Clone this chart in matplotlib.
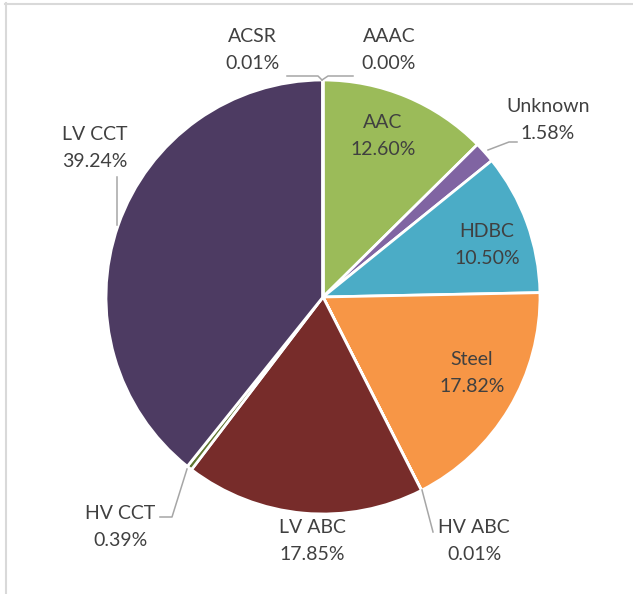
import matplotlib
matplotlib.use("Agg")
import matplotlib.pyplot as plt
from matplotlib.lines import Line2D

categories = ["AAAC", "AAC", "Unknown", "HDBC", "Steel", "HV ABC", "LV ABC", "HV CCT", "LV CCT", "ACSR"]
values = [0.00, 12.60, 1.58, 10.50, 17.82, 0.01, 17.85, 0.39, 39.24, 0.01]
colors = ["#4F81BD", "#9BBB59", "#8064A2", "#4BACC6", "#F79646", "#2C4D75", "#772C2A", "#5F7530", "#4D3B62", "#C0504D"]

W, H = 633, 594
fig = plt.figure(figsize=(W / 100, H / 100), dpi=100)
ax = fig.add_axes([0, 0, 1, 1])

cx, cy, r = 323, 297, 217
ax.pie(values, colors=colors, startangle=90, counterclock=False,
       center=(cx, H - cy), radius=r,
       wedgeprops=dict(edgecolor="white", linewidth=2.0))
ax.set_xlim(0, W)
ax.set_ylim(0, H)
ax.set_aspect("equal")
ax.axis("off")

# label positions in pixel coords (x, y from top)
label_pos = {
    "AAAC": (389, 50), "ACSR": (252, 50), "AAC": (383, 136), "Unknown": (548, 120),
    "HDBC": (487, 245), "Steel": (472, 373), "HV ABC": (474, 541), "LV ABC": (312, 541),
    "HV CCT": (120, 527), "LV CCT": (95, 148),
}
for cat, val in zip(categories, values):
    x, y = label_pos[cat]
    ax.text(x, H - y, f"{cat}\n{val:.2f}%", ha="center", va="center",
            fontsize=14, color="#404040", family=["Lato", "DejaVu Sans"],
            linespacing=1.75)

# leader lines (pixel coords)
leaders = [
    [(287, 76), (318, 76), (322, 80)],
    [(322, 80), (328, 76), (353, 76)],
    [(488, 150), (509, 142), (517, 142)],
    [(422, 490), (433, 532)],
    [(187, 469), (172, 517), (160, 517)],
    [(117, 177), (117, 225)],
]
for pts in leaders:
    xs = [p[0] for p in pts]
    ys = [H - p[1] for p in pts]
    ax.add_line(Line2D(xs, ys, color="#A6A6A6", linewidth=1.1))

# chart frame (top and left edges visible)
fig.add_artist(Line2D([5 / W, 1], [1 - 3.5 / H, 1 - 3.5 / H], transform=fig.transFigure,
                      color="#D9D9D9", linewidth=1.5))
fig.add_artist(Line2D([5.5 / W, 5.5 / W], [0, 1 - 3 / H], transform=fig.transFigure,
                      color="#D9D9D9", linewidth=1.5))

fig.savefig("out.png", dpi=100, facecolor="white")
